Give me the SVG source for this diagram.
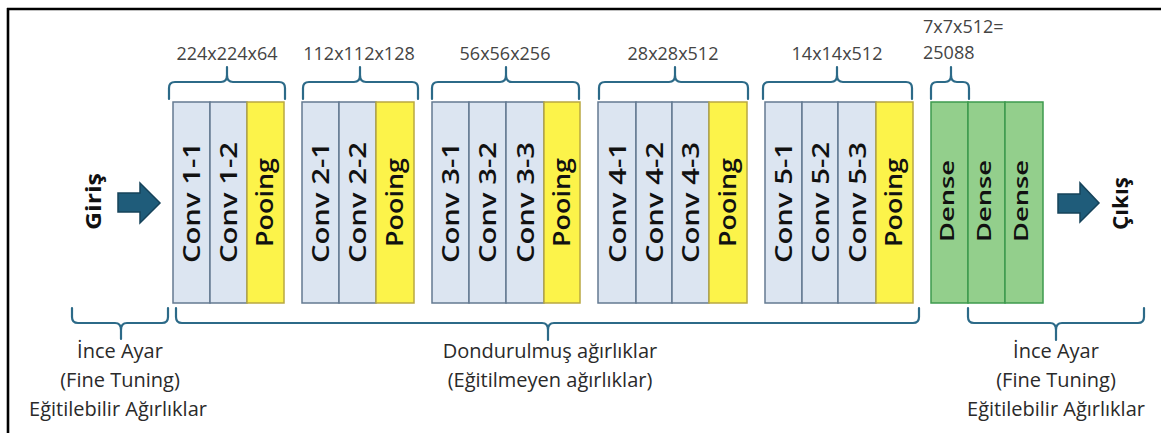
<svg xmlns="http://www.w3.org/2000/svg" width="1161" height="433" viewBox="0 0 1161 433">
  <style>
    .conv { fill: #dce5f1; stroke: #647a91; stroke-width: 1.5; }
    .pool { fill: #fcf34a; stroke: #b9a842; stroke-width: 1.5; }
    .dense { fill: #93cf8c; stroke: #3e9a4e; stroke-width: 1.5; }
    .lt { font-family: "Open Sans", "DejaVu Sans", sans-serif; font-weight: 600; font-size: 24px; fill: #111; text-anchor: middle; }
    .ld { font-family: "Open Sans", "DejaVu Sans", sans-serif; font-weight: 600; font-size: 20px; fill: #111; text-anchor: middle; }
    .io { font-family: "Open Sans", "DejaVu Sans", sans-serif; font-weight: 700; font-size: 22px; fill: #111; text-anchor: middle; }
    .dim { font-family: "Open Sans", "DejaVu Sans", sans-serif; font-size: 18px; fill: #444; }
    .note { font-family: "Open Sans", "DejaVu Sans", sans-serif; font-size: 20px; fill: #2a2a2a; text-anchor: middle; }
    .brace { fill: none; stroke: #2c6a88; stroke-width: 2.2; stroke-linejoin: round; stroke-linecap: round; }
    .arrow { fill: #1f5c7a; stroke: #16435a; stroke-width: 1.5; }
    .frame { stroke: #000; stroke-width: 2.6; }
  </style>

  <rect x="0" y="0" width="1161" height="433" fill="#fff"/>
  <line class="frame" x1="7" y1="9" x2="1161" y2="9"/>
  <line class="frame" x1="8" y1="8" x2="8" y2="433"/>

  <!-- Block 1 -->
  <g id="conv1-1"><rect class="conv" x="173" y="102" width="37" height="201"/><text class="lt" transform="translate(200,202.5) rotate(-90)" textLength="121" lengthAdjust="spacingAndGlyphs">Conv 1-1</text></g>
  <g id="conv1-2"><rect class="conv" x="210" y="102" width="37" height="201"/><text class="lt" transform="translate(237,202.5) rotate(-90)" textLength="121" lengthAdjust="spacingAndGlyphs">Conv 1-2</text></g>
  <g id="pool1"><rect class="pool" x="247" y="102" width="37" height="201"/><text class="lt" transform="translate(273,202.5) rotate(-90)" textLength="89" lengthAdjust="spacingAndGlyphs">Pooing</text></g>

  <!-- Block 2 -->
  <g id="conv2-1"><rect class="conv" x="302" y="102" width="37" height="201"/><text class="lt" transform="translate(329,202.5) rotate(-90)" textLength="121" lengthAdjust="spacingAndGlyphs">Conv 2-1</text></g>
  <g id="conv2-2"><rect class="conv" x="339" y="102" width="37" height="201"/><text class="lt" transform="translate(366,202.5) rotate(-90)" textLength="121" lengthAdjust="spacingAndGlyphs">Conv 2-2</text></g>
  <g id="pool2"><rect class="pool" x="376" y="102" width="38" height="201"/><text class="lt" transform="translate(402.5,202.5) rotate(-90)" textLength="89" lengthAdjust="spacingAndGlyphs">Pooing</text></g>

  <!-- Block 3 -->
  <g id="conv3-1"><rect class="conv" x="432" y="102" width="37" height="201"/><text class="lt" transform="translate(459,202.5) rotate(-90)" textLength="121" lengthAdjust="spacingAndGlyphs">Conv 3-1</text></g>
  <g id="conv3-2"><rect class="conv" x="469" y="102" width="37" height="201"/><text class="lt" transform="translate(496,202.5) rotate(-90)" textLength="121" lengthAdjust="spacingAndGlyphs">Conv 3-2</text></g>
  <g id="conv3-3"><rect class="conv" x="506" y="102" width="38" height="201"/><text class="lt" transform="translate(533.5,202.5) rotate(-90)" textLength="121" lengthAdjust="spacingAndGlyphs">Conv 3-3</text></g>
  <g id="pool3"><rect class="pool" x="544" y="102" width="36" height="201"/><text class="lt" transform="translate(569.5,202.5) rotate(-90)" textLength="89" lengthAdjust="spacingAndGlyphs">Pooing</text></g>

  <!-- Block 4 -->
  <g id="conv4-1"><rect class="conv" x="598" y="102" width="38" height="201"/><text class="lt" transform="translate(625.5,202.5) rotate(-90)" textLength="121" lengthAdjust="spacingAndGlyphs">Conv 4-1</text></g>
  <g id="conv4-2"><rect class="conv" x="636" y="102" width="36" height="201"/><text class="lt" transform="translate(662.5,202.5) rotate(-90)" textLength="121" lengthAdjust="spacingAndGlyphs">Conv 4-2</text></g>
  <g id="conv4-3"><rect class="conv" x="672" y="102" width="37" height="201"/><text class="lt" transform="translate(699,202.5) rotate(-90)" textLength="121" lengthAdjust="spacingAndGlyphs">Conv 4-3</text></g>
  <g id="pool4"><rect class="pool" x="709" y="102" width="38" height="201"/><text class="lt" transform="translate(735.5,202.5) rotate(-90)" textLength="89" lengthAdjust="spacingAndGlyphs">Pooing</text></g>

  <!-- Block 5 -->
  <g id="conv5-1"><rect class="conv" x="765" y="102" width="37" height="201"/><text class="lt" transform="translate(792,202.5) rotate(-90)" textLength="121" lengthAdjust="spacingAndGlyphs">Conv 5-1</text></g>
  <g id="conv5-2"><rect class="conv" x="802" y="102" width="36" height="201"/><text class="lt" transform="translate(828.5,202.5) rotate(-90)" textLength="121" lengthAdjust="spacingAndGlyphs">Conv 5-2</text></g>
  <g id="conv5-3"><rect class="conv" x="838" y="102" width="38" height="201"/><text class="lt" transform="translate(865.5,202.5) rotate(-90)" textLength="121" lengthAdjust="spacingAndGlyphs">Conv 5-3</text></g>
  <g id="pool5"><rect class="pool" x="876" y="102" width="37" height="201"/><text class="lt" transform="translate(902,202.5) rotate(-90)" textLength="89" lengthAdjust="spacingAndGlyphs">Pooing</text></g>

  <!-- Fully connected layers -->
  <g id="dense1"><rect class="dense" x="931" y="102" width="37" height="201"/><text class="ld" transform="translate(953.5,201) rotate(-90)" textLength="82" lengthAdjust="spacingAndGlyphs">Dense</text></g>
  <g id="dense2"><rect class="dense" x="968" y="102" width="37" height="201"/><text class="ld" transform="translate(990.5,201) rotate(-90)" textLength="82" lengthAdjust="spacingAndGlyphs">Dense</text></g>
  <g id="dense3"><rect class="dense" x="1005" y="102" width="38" height="201"/><text class="ld" transform="translate(1028,201) rotate(-90)" textLength="82" lengthAdjust="spacingAndGlyphs">Dense</text></g>

  <!-- Input / output -->
  <g id="input"><text class="io" transform="translate(101,201.5) rotate(-90)" textLength="57" lengthAdjust="spacingAndGlyphs">Giriş</text></g>
  <g id="output"><text class="io" transform="translate(1128,203.5) rotate(-90)" textLength="53" lengthAdjust="spacingAndGlyphs">Çıkış</text></g>

  <g id="connectors">
    <polygon class="arrow" points="118,193 140,193 140,183 160,203 140,223 140,212 118,212"/>
    <polygon class="arrow" points="1058,194 1080,194 1080,183 1099,203 1080,222 1080,213 1058,213"/>
  </g>

  <!-- Size braces above the blocks -->
  <g id="size-braces">
    <path class="brace" d="M169,99 L169,88 Q169,82 175,82 L221,82 Q227,82 227,75 L227,67 L227,75 Q227,82 233,82 L279,82 Q285,82 285,88 L285,99"/>
    <path class="brace" d="M303,99 L303,88 Q303,82 309,82 L354,82 Q360,82 360,75 L360,67 L360,75 Q360,82 366,82 L412,82 Q418,82 418,88 L418,99"/>
    <path class="brace" d="M432,99 L432,88 Q432,82 438,82 L500,82 Q506,82 506,75 L506,67 L506,75 Q506,82 512,82 L573,82 Q579,82 579,88 L579,99"/>
    <path class="brace" d="M599,99 L599,88 Q599,82 605,82 L669,82 Q675,82 675,75 L675,67 L675,75 Q675,82 681,82 L742,82 Q748,82 748,88 L748,99"/>
    <path class="brace" d="M763,99 L763,88 Q763,82 769,82 L831,82 Q837,82 837,75 L837,67 L837,75 Q837,82 843,82 L906,82 Q912,82 912,88 L912,99"/>
    <path class="brace" d="M931,99 L931,88 Q931,82 937,82 L945,82 Q951,82 951,75 L951,67 L951,75 Q951,82 957,82 L963,82 Q969,82 969,88 L969,99"/>
  </g>

  <g id="size-labels">
    <text class="dim" x="227" y="60" text-anchor="middle">224x224x64</text>
    <text class="dim" x="359" y="60" text-anchor="middle">112x112x128</text>
    <text class="dim" x="505" y="60" text-anchor="middle">56x56x256</text>
    <text class="dim" x="673" y="60" text-anchor="middle">28x28x512</text>
    <text class="dim" x="837" y="60" text-anchor="middle">14x14x512</text>
    <text class="dim" x="923" y="33">7x7x512=</text>
    <text class="dim" x="923" y="59">25088</text>
  </g>

  <!-- Training-scope braces below the blocks -->
  <g id="scope-braces">
    <path class="brace" d="M72,308 L72,317 Q72,323 78,323 L115,323 Q121,323 121,330 L121,339 L121,330 Q121,323 127,323 L162,323 Q168,323 168,317 L168,308"/>
    <path class="brace" d="M176,308 L176,317 Q176,323 182,323 L542,323 Q548,323 548,330 L548,340 L548,330 Q548,323 554,323 L913,323 Q919,323 919,317 L919,308"/>
    <path class="brace" d="M968,308 L968,317 Q968,323 974,323 L1050,323 Q1056,323 1056,330 L1056,340 L1056,330 Q1056,323 1062,323 L1138,323 Q1144,323 1144,317 L1144,308"/>
  </g>

  <g id="scope-labels">
    <text class="note" x="120" y="358">İnce Ayar</text>
    <text class="note" x="120" y="387">(Fine Tuning)</text>
    <text class="note" x="118" y="416">Eğitilebilir Ağırlıklar</text>
    <text class="note" x="550" y="358">Dondurulmuş ağırlıklar</text>
    <text class="note" x="550" y="387">(Eğitilmeyen ağırlıklar)</text>
    <text class="note" x="1056" y="358">İnce Ayar</text>
    <text class="note" x="1056" y="387">(Fine Tuning)</text>
    <text class="note" x="1056" y="416">Eğitilebilir Ağırlıklar</text>
  </g>
</svg>
